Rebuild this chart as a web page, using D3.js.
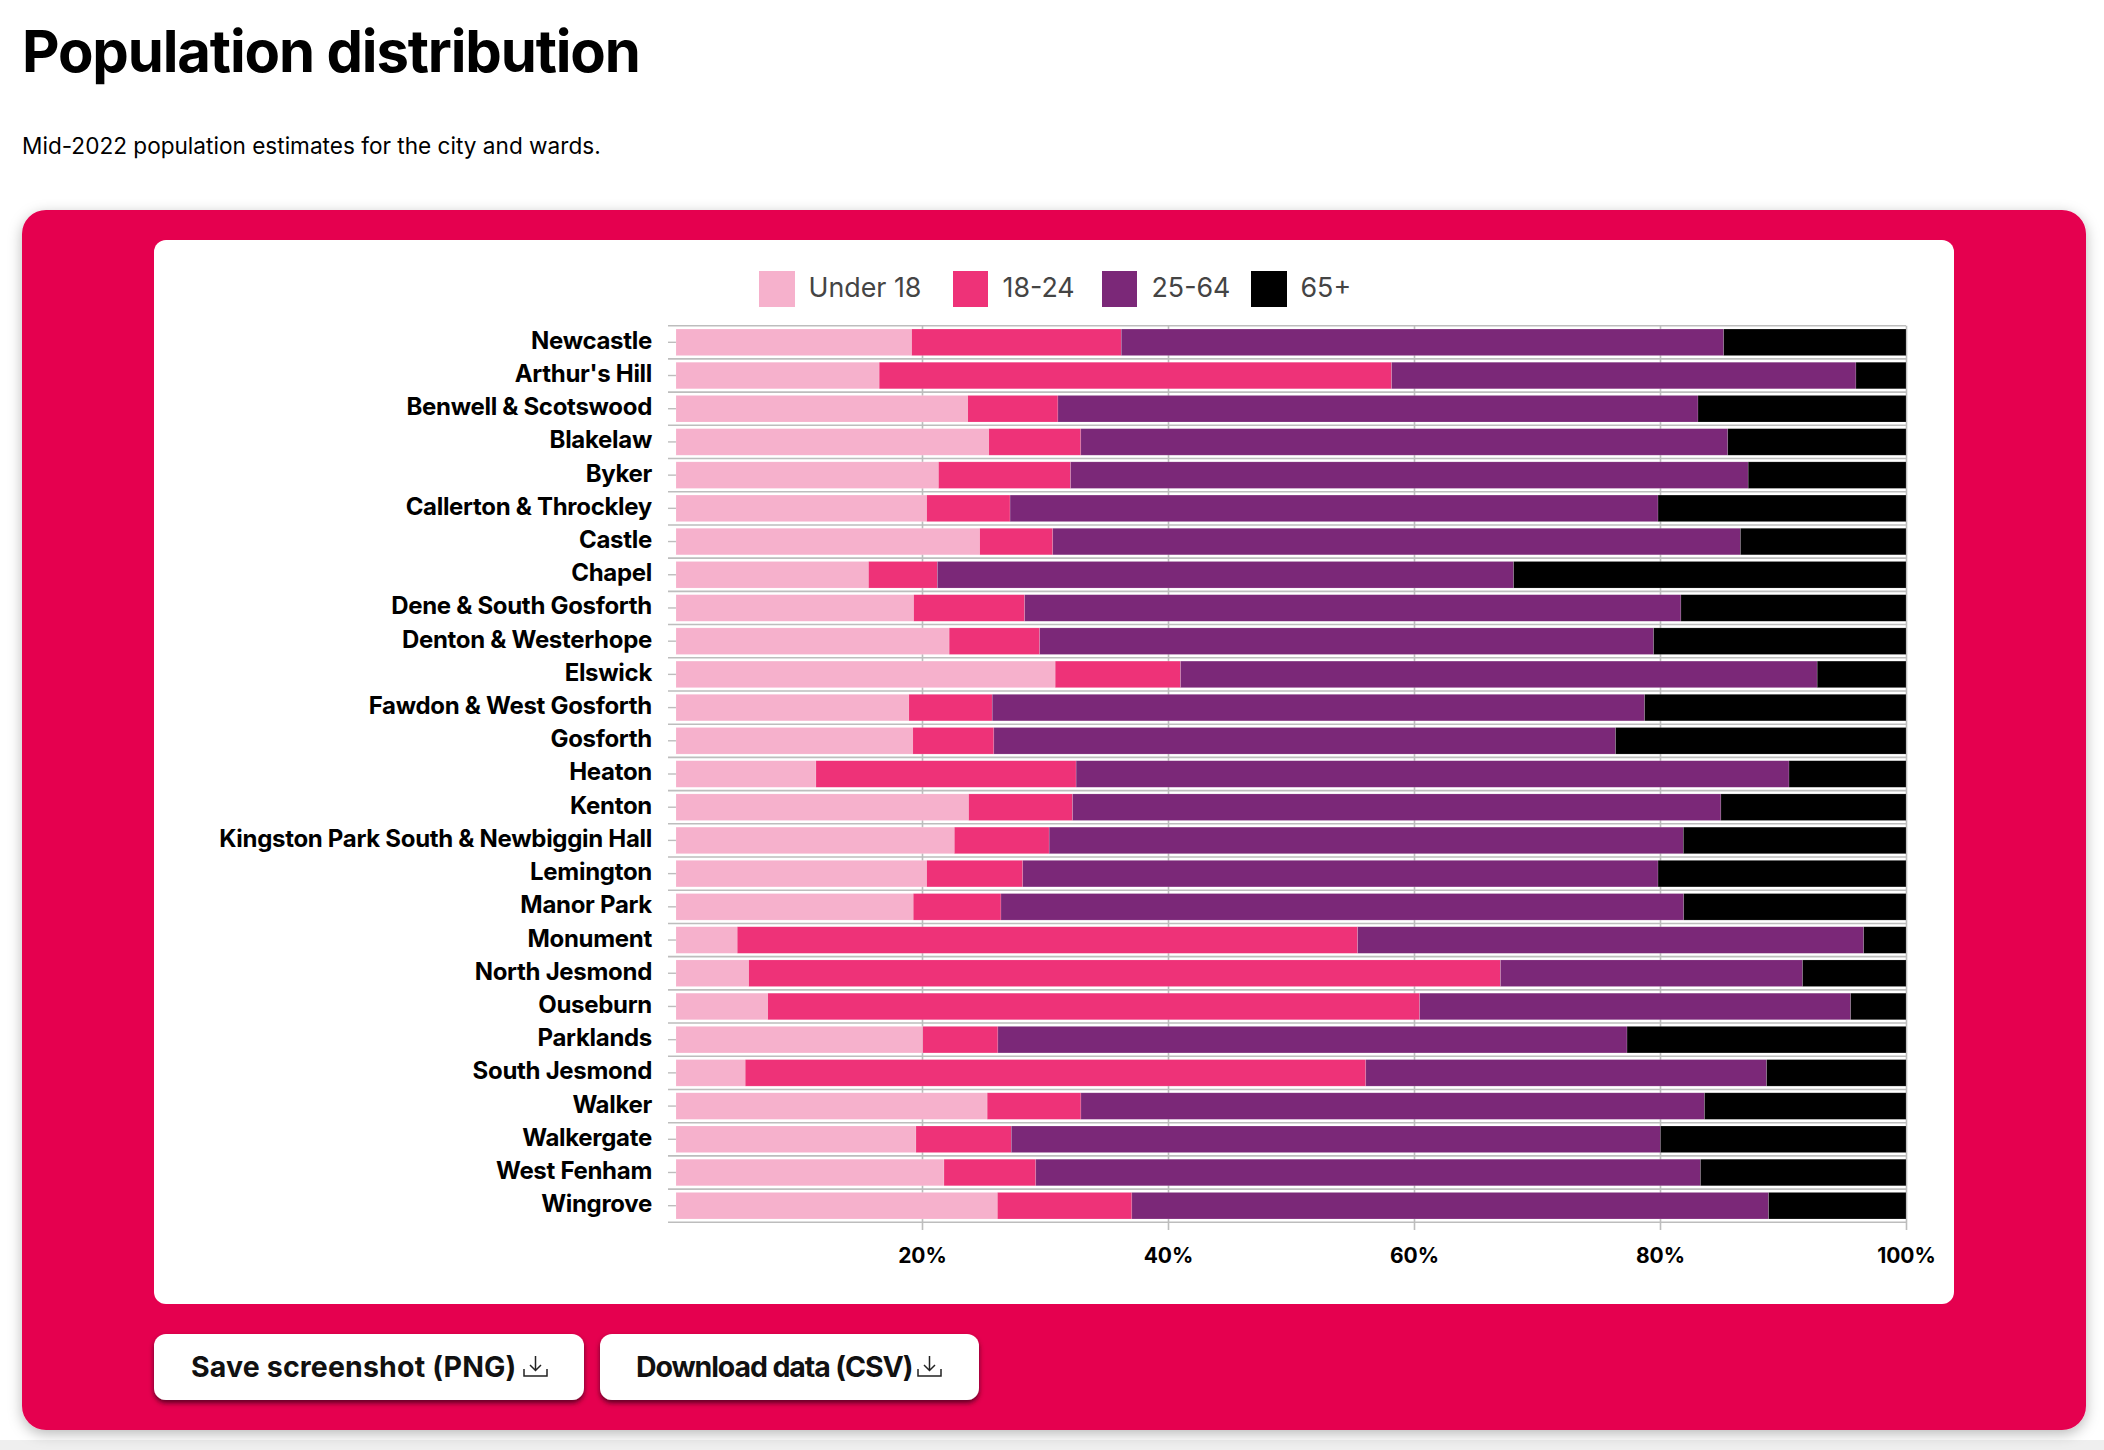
<!DOCTYPE html>
<html><head><meta charset="utf-8">
<script src="https://cdn.jsdelivr.net/npm/d3@7"></script>
<style>
html,body{margin:0;padding:0;background:#fff;}
svg{display:block;}
text{font-family:Inter,"Noto Sans",sans-serif;}
</style></head><body><div id="chart"></div>
<script>
const wards=["Newcastle","Arthur's Hill","Benwell & Scotswood","Blakelaw","Byker","Callerton & Throckley","Castle","Chapel","Dene & South Gosforth","Denton & Westerhope","Elswick","Fawdon & West Gosforth","Gosforth","Heaton","Kenton","Kingston Park South & Newbiggin Hall","Lemington","Manor Park","Monument","North Jesmond","Ouseburn","Parklands","South Jesmond","Walker","Walkergate","West Fenham","Wingrove"];
const under18=[19.16,16.52,23.72,25.43,21.34,20.38,24.69,15.65,19.32,22.21,30.83,18.93,19.25,11.38,23.79,22.63,20.38,19.29,4.98,5.91,7.46,20.06,5.63,25.30,19.51,21.79,26.13];
const age18to24=[17.04,41.66,7.33,7.48,10.74,6.78,5.94,5.60,9.03,7.36,10.19,6.78,6.59,21.15,8.45,7.71,7.81,7.13,50.44,61.12,53.00,6.11,50.45,7.62,7.75,7.46,10.93];
const age25to64=[48.98,37.75,52.04,52.60,55.09,52.68,55.91,46.85,53.35,49.91,51.76,53.04,50.55,57.96,52.71,51.56,51.65,55.51,41.14,24.56,35.04,51.15,32.59,50.70,52.78,54.04,51.77];
const age65plus=[14.82,4.07,16.91,14.49,12.83,20.16,13.46,31.90,18.30,20.52,7.22,21.25,23.61,9.51,15.05,18.10,20.16,18.07,3.44,8.41,4.50,22.68,11.33,16.38,19.96,16.71,11.17];
const seriesNames=["Under 18","18-24","25-64","65+"];
const seriesColors=["#f6b1cc","#ee3278","#7b2878","#000000"];
const xTicks=[20,40,60,80,100];
const buttonLabels=["Save screenshot (PNG)","Download data (CSV)"];

const W=2104,H=1450;
const svg=d3.select("#chart").append("svg").attr("width",W).attr("height",H).attr("viewBox",`0 0 ${W} ${H}`);
const defs=svg.append("defs");
const f1=defs.append("filter").attr("id","panelShadow").attr("x","-5%").attr("y","-5%").attr("width","110%").attr("height","110%");
f1.append("feDropShadow").attr("dx",0).attr("dy",4).attr("stdDeviation",7).attr("flood-color","#000").attr("flood-opacity",.28);
const f2=defs.append("filter").attr("id","btnShadow").attr("x","-10%").attr("y","-20%").attr("width","120%").attr("height","150%");
f2.append("feDropShadow").attr("dx",0).attr("dy",3).attr("stdDeviation",2.5).attr("flood-color","#3a0015").attr("flood-opacity",.8);

svg.append("rect").attr("width",W).attr("height",H).attr("fill","#fff");
svg.append("rect").attr("y",1440).attr("width",W).attr("height",10).attr("fill","#efefef");

svg.append("text").attr("x",22).attr("y",72).attr("font-size",58).attr("font-weight",700).attr("letter-spacing",-1.15).attr("fill","#000").text("Population distribution");
svg.append("text").attr("x",22).attr("y",154).attr("font-size",22.6).attr("font-weight",400).attr("fill","#000").text("Mid-2022 population estimates for the city and wards.");

svg.append("rect").attr("x",22).attr("y",210).attr("width",2064).attr("height",1220).attr("rx",24).attr("fill","#e50350").attr("filter","url(#panelShadow)");
svg.append("rect").attr("x",154).attr("y",240).attr("width",1800).attr("height",1064).attr("rx",12).attr("fill","#fff");

// legend
const legendX=[759,953,1102,1251];
const legend=svg.append("g").selectAll("g").data(seriesNames).join("g").attr("transform",(d,i)=>`translate(${legendX[i]},271)`);
legend.append("rect").attr("width",(d,i)=>i===1||i===2?35:36).attr("height",36).attr("fill",(d,i)=>seriesColors[i]);
legend.append("text").attr("x",49.5).attr("y",26).attr("font-size",26.8).attr("fill","#444").text(d=>d);

// scales
const x=d3.scaleLinear().domain([0,100]).range([676,1906]);
const y=d3.scaleBand().domain(wards).range([325.7,1222.3]).padding(0.2).paddingOuter(0.1);
const step=y.step();
const gridColor="#bdbdbd";

// x axis & vertical grid
const axX=svg.append("g").attr("transform","translate(0,1230)")
  .call(d3.axisBottom(x).tickValues(xTicks).tickFormat(d=>d+"%").tickSize(-(1230-325.7)).tickPadding(15));
axX.select(".domain").remove();
axX.selectAll("line").attr("stroke",gridColor).attr("stroke-width",1.6);
axX.selectAll("text").attr("y",33).attr("dy",0).attr("font-size",21).attr("font-weight",700).attr("fill","#000").attr("font-family","Inter");

// horizontal lines on band boundaries
const boundaries=wards.map(w=>y(w)-(step-y.bandwidth())/2).concat([y(wards[wards.length-1])+y.bandwidth()+(step-y.bandwidth())/2]);
svg.append("g").selectAll("line").data(boundaries).join("line")
  .attr("x1",668).attr("x2",1906).attr("y1",d=>d).attr("y2",d=>d).attr("stroke",gridColor).attr("stroke-width",1.6);

// y axis
const axY=svg.append("g").attr("transform","translate(676,0)")
  .call(d3.axisLeft(y).tickSize(8).tickPadding(16));
axY.select(".domain").remove();
axY.selectAll("line").attr("stroke",gridColor).attr("stroke-width",1.4);
axY.selectAll("text").attr("font-size",24).attr("font-weight",700).attr("fill","#000").attr("font-family","Inter").attr("letter-spacing",-0.3).attr("transform","translate(0,-1.2)");

// stacked bars
const table=wards.map((w,i)=>({ward:w,"Under 18":under18[i],"18-24":age18to24[i],"25-64":age25to64[i],"65+":age65plus[i]}));
const stack=d3.stack().keys(seriesNames)(table);
svg.append("g").selectAll("g").data(stack).join("g").attr("fill",(d,i)=>seriesColors[i])
  .selectAll("rect").data(d=>d).join("rect")
  .attr("x",d=>x(d[0])).attr("width",d=>x(d[1])-x(d[0]))
  .attr("y",d=>y(d.data.ward)).attr("height",y.bandwidth())
  .attr("stroke","#fff").attr("stroke-opacity",.25).attr("stroke-width",.6);

// buttons
const buttons=[{x:154,w:430,tx:191,ix:524,ls:0.15},{x:600,w:379,tx:636,ix:918,ls:-1.1}];
const btn=svg.append("g").selectAll("g").data(buttons).join("g");
btn.append("rect").attr("x",d=>d.x).attr("y",1334).attr("width",d=>d.w).attr("height",66).attr("rx",12).attr("fill","#fff").attr("filter","url(#btnShadow)");
btn.append("text").attr("x",d=>d.tx).attr("y",1377).attr("font-size",28.5).attr("font-weight",700).attr("letter-spacing",d=>d.ls).attr("fill","#111").text((d,i)=>buttonLabels[i]);
btn.append("path").attr("transform",d=>`translate(${d.ix},1356)`)
  .attr("d","M11.5 0V14M6 9L11.5 14.5L17 9M0 13V20H23V13").attr("fill","none").attr("stroke","#222").attr("stroke-width",1.5);
</script></body></html>
